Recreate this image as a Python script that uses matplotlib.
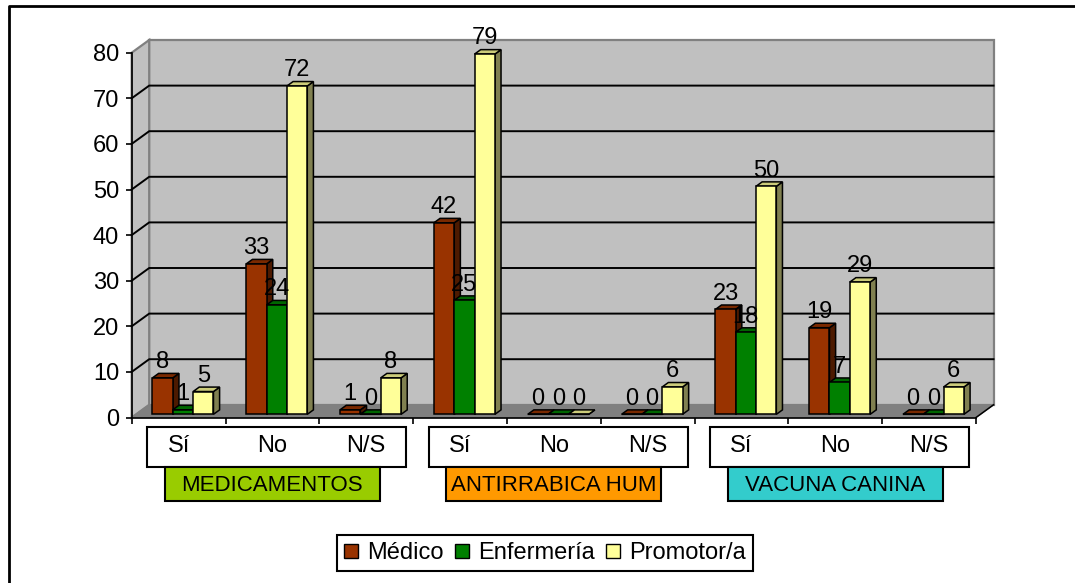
import matplotlib
matplotlib.use("Agg")
import matplotlib.pyplot as plt
from matplotlib.patches import Polygon, Rectangle, Patch
from matplotlib.lines import Line2D
from matplotlib.transforms import blended_transform_factory

plt.rcParams['font.family'] = ['Liberation Sans', 'DejaVu Sans']

grupos = ['MEDICAMENTOS', 'ANTIRRABICA HUM', 'VACUNA CANINA']
respuestas = ['Sí', 'No', 'N/S']
series = ['Médico', 'Enfermería', 'Promotor/a']

medico = [8, 33, 1, 42, 0, 0, 23, 19, 0]
enfermeria = [1, 24, 0, 25, 0, 0, 18, 7, 0]
promotor = [5, 72, 8, 79, 0, 6, 50, 29, 6]

cores = ['#993300', '#008000', '#ffff99']
cores_topo = ['#7a2900', '#006600', '#cccc7a']
cores_lado = ['#4d1a00', '#004000', '#808050']
cores_grupo = ['#99cc00', '#ff9900', '#33cccc']

FS = 17
W, H = 1075, 583
fig = plt.figure(figsize=(W / 100, H / 100), dpi=100)
ax = fig.add_axes([131.7 / W, 1 - 417.5 / H, 844.3 / W, 364.8 / H])
ax.set_xlim(0, 9)
ax.set_ylim(0, 80)
ax.set_facecolor('none')

n = len(medico)
DX, DY = 0.1866, 2.785   # profundidad del piso
ymax = 80

def cara(pts, fc, ec, z, lw=1.1):
    ax.add_patch(Polygon(pts, closed=True, facecolor=fc, edgecolor=ec,
                         lw=lw, clip_on=False, zorder=z, joinstyle='miter'))

# paredes y piso
cara([(DX, DY), (n + DX, DY), (n + DX, ymax + DY), (DX, ymax + DY)], '#c0c0c0', '#808080', 0.5, 1.6)
cara([(0, 0), (DX, DY), (DX, ymax + DY), (0, ymax)], '#c0c0c0', '#808080', 0.6, 1.6)
cara([(0, 0), (n, 0), (n + DX, DY), (DX, DY)], '#808080', '#808080', 0.7, 1.0)

for v in range(10, ymax, 10):
    ax.plot([0, DX, n + DX], [v, v + DY, v + DY], color='k', lw=1.4,
            clip_on=False, zorder=0.8)
ax.plot([n, n + DX], [0, DY], color='k', lw=1.1, clip_on=False, zorder=0.9)

# barras 3D
ancho = 0.65 / 3
f0, f1 = 0.25, 0.6
ddx, ddy = (f1 - f0) * DX, (f1 - f0) * DY
datos = [medico, enfermeria, promotor]
z = 3
for k in range(n):
    for s in range(3):
        v = datos[s][k]
        x0 = k + 0.5 - 1.5 * ancho + s * ancho + f0 * DX
        y0 = f0 * DY
        cara([(x0 + ancho, y0), (x0 + ancho + ddx, y0 + ddy),
              (x0 + ancho + ddx, y0 + v + ddy), (x0 + ancho, y0 + v)],
             cores_lado[s], 'k', z)
        cara([(x0, y0 + v), (x0 + ancho, y0 + v),
              (x0 + ancho + ddx, y0 + v + ddy), (x0 + ddx, y0 + v + ddy)],
             cores_topo[s], 'k', z + 0.1)
        ax.add_patch(Rectangle((x0, y0), ancho, v, facecolor=cores[s],
                               edgecolor='k', lw=1.1, clip_on=False, zorder=z + 0.2))
        ax.annotate(str(v), (x0 + ancho / 2, y0 + v), xytext=(0, 7),
                    textcoords='offset points', ha='center', va='baseline',
                    fontsize=FS, zorder=50)
        z += 1

# ejes
for lado in ['top', 'right']:
    ax.spines[lado].set_visible(False)
for lado in ['left', 'bottom']:
    ax.spines[lado].set_linewidth(1.2)
ax.set_yticks(range(0, ymax + 1, 10))
ax.set_xticks(range(n + 1))
ax.set_xticklabels([])
ax.tick_params(axis='both', direction='out', length=4.5, width=1.2,
               labelsize=FS, pad=4.5)

# cajas de categorías
tr = blended_transform_factory(ax.transData, fig.transFigure)
for g, nombre in enumerate(grupos):
    gc = 3 * g + 1.5
    fig.add_artist(Rectangle((gc + 0.048 - 1.38, 1 - 466.7 / H), 2.76, 39.4 / H,
                             transform=tr, facecolor='white', edgecolor='k',
                             lw=1.5, zorder=2))
    fig.add_artist(Rectangle((gc - 1.145, 1 - 501 / H), 2.29, 34.3 / H,
                             transform=tr, facecolor=cores_grupo[g], edgecolor='k',
                             lw=1.5, zorder=2))
    for j, r in enumerate(respuestas):
        fig.text(3 * g + j + 0.5, 1 - 446 / H, r, transform=tr, ha='center',
                 va='center', fontsize=FS, zorder=3)
    fig.text(gc, 1 - 485.5 / H, nombre, transform=tr, ha='center', va='center',
             fontsize=16, zorder=3)

# leyenda
manijas = [Patch(facecolor=c, edgecolor='k', lw=1.0) for c in cores]
leg = fig.legend(manijas, series, loc='center', bbox_to_anchor=(0.5069, 0.0509),
                 ncol=3, frameon=True, fancybox=False, edgecolor='k',
                 framealpha=1, handlelength=0.6, handleheight=0.6,
                 handletextpad=0.4, columnspacing=0.45, borderpad=0.3,
                 borderaxespad=0, fontsize=FS)
leg.get_frame().set_linewidth(1.5)

# marco exterior
fig.add_artist(Line2D([9 / W, 9 / W, 1], [0, 1 - 5.7 / H, 1 - 5.7 / H],
                      color='k', lw=2, transform=fig.transFigure))

fig.savefig('out.png', dpi=100)
